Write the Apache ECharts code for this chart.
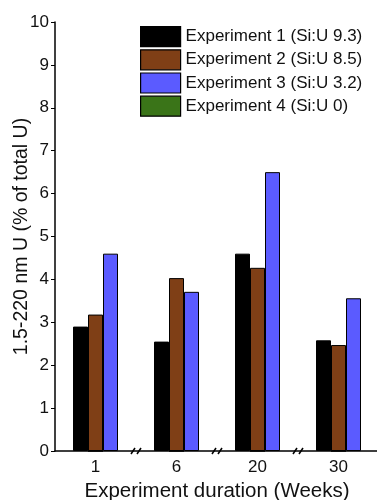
<!DOCTYPE html>
<html>
<head>
<meta charset="utf-8">
<script src="https://cdn.jsdelivr.net/npm/echarts@6/dist/echarts.min.js"></script>
<style>
  html, body { margin: 0; padding: 0; background: #fff; }
  #main { width: 377px; height: 500px; }
</style>
</head>
<body>
<div id="main"></div>
<script>
// weeks on the x axis
const weeks = ['1', '6', '20', '30'];
const seriesNames = [
  'Experiment 1 (Si:U 9.3)',
  'Experiment 2 (Si:U 8.5)',
  'Experiment 3 (Si:U 3.2)',
  'Experiment 4 (Si:U 0)'
];
// % of total U in 1.5-220 nm fraction
const exp1 = [2.9, 2.55, 4.6, 2.58];
const exp2 = [3.18, 4.03, 4.27, 2.47];
const exp3 = [4.6, 3.71, 6.5, 3.56];
const exp4 = [0, 0, 0, 0];
const colors = ['#000000', '#7f3f16', '#5b5bff', '#3a7418'];

const chart = echarts.init(document.getElementById('main'));
const font = 'Liberation Sans, Arial, sans-serif';

const barStyle = (i) => ({
  color: colors[i],
  borderColor: '#000',
  borderWidth: 1
});

const option = {
  animation: false,
  textStyle: { fontFamily: font },
  grid: { left: 55, right: -2, top: 22, bottom: 49, containLabel: false, outerBoundsMode: 'none' },
  legend: {
    orient: 'vertical',
    left: 135,
    top: 21,
    icon: 'rect',
    itemWidth: 40,
    itemHeight: 20,
    itemGap: 2,
    data: seriesNames,
    textStyle: { fontSize: 17, color: '#111', fontFamily: font },
    itemStyle: { borderColor: '#000', borderWidth: 1.2 }
  },
  xAxis: [{
    type: 'category',
    data: weeks,
    name: 'Experiment duration (Weeks)',
    nameLocation: 'middle',
    nameGap: 26,
    nameTextStyle: { fontSize: 20.5, color: '#111', verticalAlign: 'top' },
    axisLine: { lineStyle: { color: '#000', width: 1.5 } },
    axisTick: { alignWithLabel: true, length: 4, lineStyle: { color: '#000' } },
    axisLabel: { fontSize: 17, color: '#111', margin: 8 }
  }, {
    type: 'category',
    data: weeks,
    show: false
  }],
  yAxis: {
    type: 'value',
    min: 0,
    max: 10,
    interval: 1,
    name: '1.5-220 nm U (% of total U)',
    nameLocation: 'middle',
    nameGap: 33,
    nameMoveOverlap: false,
    nameTextStyle: { fontSize: 19.5, color: '#111', verticalAlign: 'middle' },
    splitLine: { show: false },
    axisLine: { show: true, lineStyle: { color: '#000', width: 1.5 } },
    axisTick: { show: true, length: 4, lineStyle: { color: '#000' } },
    axisLabel: { fontSize: 17, color: '#111', margin: 6 }
  },
  series: [
    { name: seriesNames[0], type: 'bar', data: exp1, barWidth: 15, barGap: '0%', itemStyle: barStyle(0) },
    { name: seriesNames[1], type: 'bar', data: exp2, barWidth: 15, barGap: '0%', itemStyle: barStyle(1) },
    { name: seriesNames[2], type: 'bar', data: exp3, barWidth: 15, barGap: '0%', itemStyle: barStyle(2) },
    { name: seriesNames[3], type: 'bar', data: exp4, xAxisIndex: 1, barWidth: 15, itemStyle: barStyle(3) }
  ]
};

chart.setOption(option);

// axis break marks "//" between the categories
const breaks = [];
for (let i = 0; i < weeks.length - 1; i++) {
  const a = chart.convertToPixel({ xAxisIndex: 0 }, i);
  const b = chart.convertToPixel({ xAxisIndex: 0 }, i + 1);
  const y0 = chart.convertToPixel({ yAxisIndex: 0 }, 0);
  const x = (a + b) / 2;
  breaks.push({
    type: 'group',
    children: [
      { type: 'rect', shape: { x: x - 3, y: y0 - 3, width: 6, height: 6 }, style: { fill: '#fff' } },
      { type: 'line', shape: { x1: x - 5, y1: y0 + 3, x2: x - 1, y2: y0 - 3 }, style: { stroke: '#000', lineWidth: 1.5 } },
      { type: 'line', shape: { x1: x + 1, y1: y0 + 3, x2: x + 5, y2: y0 - 3 }, style: { stroke: '#000', lineWidth: 1.5 } }
    ]
  });
}
chart.setOption({ graphic: breaks });
</script>
</body>
</html>
